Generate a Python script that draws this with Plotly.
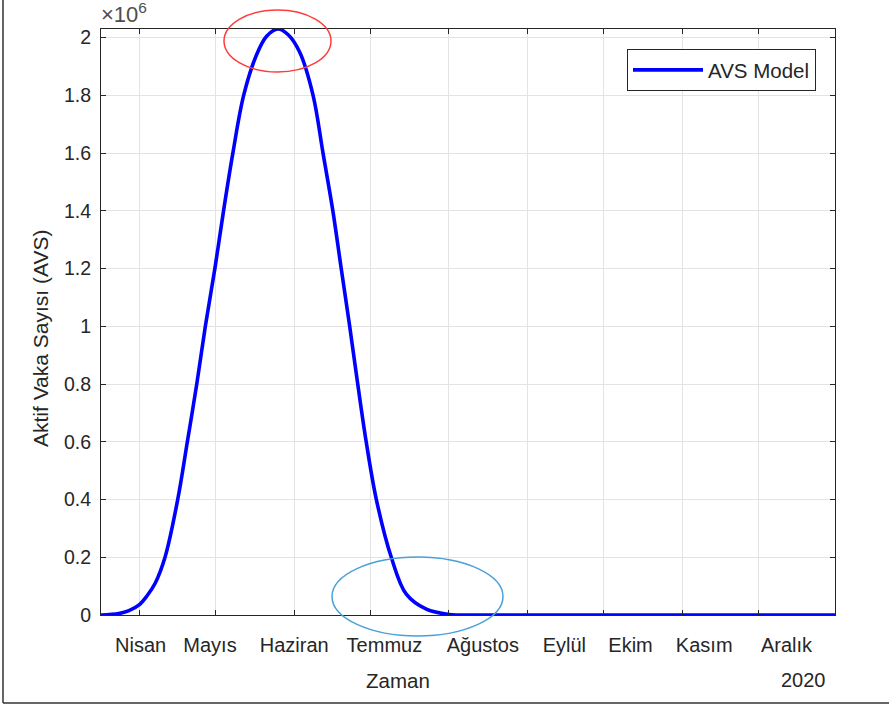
import plotly.graph_objects as go

# Values (dates in 2020, active cases)
dates = [
    "2020-03-17", "2020-03-24", "2020-03-28", "2020-04-01", "2020-04-04",
    "2020-04-07 08:00", "2020-04-11 05:00", "2020-04-16 05:00", "2020-04-20",
    "2020-04-23 17:00", "2020-04-27 02:00", "2020-04-30 20:00", "2020-05-04 06:00",
    "2020-05-07 22:00", "2020-05-12 04:00", "2020-05-17 05:00", "2020-05-21 05:00",
    "2020-05-25 17:00", "2020-05-29 17:00", "2020-06-03 05:00", "2020-06-08 12:00",
    "2020-06-12 10:00", "2020-06-16 07:00", "2020-06-19 14:00", "2020-06-22 22:00",
    "2020-06-26 02:00", "2020-06-29 10:00", "2020-07-03 10:00", "2020-07-09 07:00",
    "2020-07-15 05:00", "2020-07-23 02:00", "2020-08-01", "2020-08-15",
    "2020-09-15", "2020-10-15", "2020-11-15", "2020-12-31",
]
avs = [
    0, 5000, 15000, 35000, 65000,
    110000, 200000, 400000, 600000,
    800000, 1000000, 1200000, 1400000,
    1600000, 1800000, 1940000, 2005000,
    2030000, 2010000, 1950000, 1800000,
    1600000, 1400000, 1200000, 1000000,
    800000, 600000, 400000, 200000,
    72000, 20000, 2000, 0,
    0, 0, 0, 0,
]

# tick marks / grid at month starts
month_ticks = ["2020-04-01", "2020-05-01", "2020-06-01", "2020-07-01", "2020-08-01",
               "2020-09-01", "2020-10-01", "2020-11-01", "2020-12-01"]
# month names, placed where the reference prints them
month_label_pos = ["2020-04-01 14:00", "2020-04-28 22:00", "2020-06-01 02:00",
                   "2020-07-06 14:00", "2020-08-14 08:00", "2020-09-15 10:00",
                   "2020-10-11 12:00", "2020-11-09 12:00", "2020-12-11 22:00"]
month_labels = ["Nisan", "Mayıs", "Haziran", "Temmuz", "Ağustos",
                "Eylül", "Ekim", "Kasım", "Aralık"]
y_ticks = [0, 200000, 400000, 600000, 800000, 1000000, 1200000, 1400000,
           1600000, 1800000, 2000000]
y_labels = ["0", "0.2", "0.4", "0.6", "0.8", "1", "1.2", "1.4", "1.6", "1.8", "2"]
x_range = ["2020-03-17", "2020-12-31"]

FONT = "Liberation Sans, Arial, sans-serif"
AX = "#262626"
GRID = "#e3e3e3"

# plot-area pixel frame (used for placing overlays in paper coordinates)
L, R, T, B = 101, 835, 29, 615
W, H = R - L, B - T


def px(x):
    return (x - L) / W


def py(y):
    return (B - y) / H


fig = go.Figure()
fig.add_trace(go.Scatter(
    x=dates, y=avs, mode="lines", name="AVS Model",
    line=dict(color="#0000ff", width=3.6, shape="spline", smoothing=1.0),
))

fig.update_layout(
    width=889, height=707,
    margin=dict(l=L, r=889 - R, t=T, b=707 - B),
    paper_bgcolor="white", plot_bgcolor="white",
    font=dict(family=FONT, size=20, color=AX),
    showlegend=True,
    legend=dict(
        x=px(816), y=py(49), xanchor="right", yanchor="top",
        bgcolor="white", bordercolor=AX, borderwidth=1,
        font=dict(size=20.5, color=AX), itemwidth=70,
    ),
    xaxis=dict(
        type="date", range=x_range,
        tickmode="array", tickvals=month_ticks, showticklabels=False,
        ticks="inside", ticklen=5, tickcolor=AX, tickwidth=1,
        showline=True, linecolor=AX, linewidth=1.2, mirror="ticks",
        showgrid=True, gridcolor=GRID, gridwidth=1, zeroline=False,
    ),
    xaxis2=dict(
        type="date", range=x_range, overlaying="x", side="bottom",
        anchor="y", matches="x",
        tickmode="array", tickvals=month_label_pos, ticktext=month_labels,
        ticks="", showline=False, showgrid=False, zeroline=False,
        tickfont=dict(size=20, color=AX), ticklabelstandoff=16,
    ),
    yaxis=dict(
        range=[0, 2030000],
        tickmode="array", tickvals=y_ticks, ticktext=y_labels,
        ticks="inside", ticklen=5, tickcolor=AX, tickwidth=1,
        showline=True, linecolor=AX, linewidth=1.2, mirror="ticks",
        showgrid=True, gridcolor=GRID, gridwidth=1, zeroline=False,
        tickfont=dict(size=19.5, color=AX), ticklabelstandoff=5,
    ),
)

# invisible companion trace so the label axis is drawn
fig.add_trace(go.Scatter(x=x_range, y=[None, None], xaxis="x2", yaxis="y",
                         mode="lines", showlegend=False, hoverinfo="skip"))

fig.add_annotation(text="Aktif Vaka Sayısı (AVS)", xref="paper", yref="paper",
                   x=px(40), y=py(339), textangle=-90, showarrow=False,
                   xanchor="center", yanchor="middle", font=dict(size=21, color=AX))
fig.add_annotation(text="Zaman", xref="paper", yref="paper", x=px(398),
                   y=py(680), showarrow=False, xanchor="center", yanchor="middle",
                   font=dict(size=20.5, color=AX))
fig.add_annotation(text="2020", xref="paper", yref="paper", x=px(828),
                   y=py(680), showarrow=False, xanchor="right", yanchor="middle",
                   font=dict(size=20, color=AX))
fig.add_annotation(text="×10<sup>6</sup>", xref="paper", yref="paper", x=px(99),
                   y=py(29), showarrow=False, xanchor="left", yanchor="bottom",
                   font=dict(size=22, color="#4d4d4d"))

# highlight ellipses
fig.add_shape(type="circle", xref="paper", yref="paper",
              x0=px(224), x1=px(331), y0=py(72), y1=py(10),
              line=dict(color="#ff3b3b", width=1.5))
fig.add_shape(type="circle", xref="paper", yref="paper",
              x0=px(332), x1=px(503), y0=py(636), y1=py(557),
              line=dict(color="#4aa0d8", width=1.5))

# outer frame (left and bottom edges)
fig.add_shape(type="line", xref="paper", yref="paper",
              x0=px(3), x1=px(3), y0=py(703), y1=py(0),
              line=dict(color="#333333", width=1.5))
fig.add_shape(type="line", xref="paper", yref="paper",
              x0=px(3), x1=px(889), y0=py(703), y1=py(703),
              line=dict(color="#333333", width=1.5))

fig.write_html("out.html", config={"displayModeBar": False},
               post_script="document.body.style.margin='0';")
